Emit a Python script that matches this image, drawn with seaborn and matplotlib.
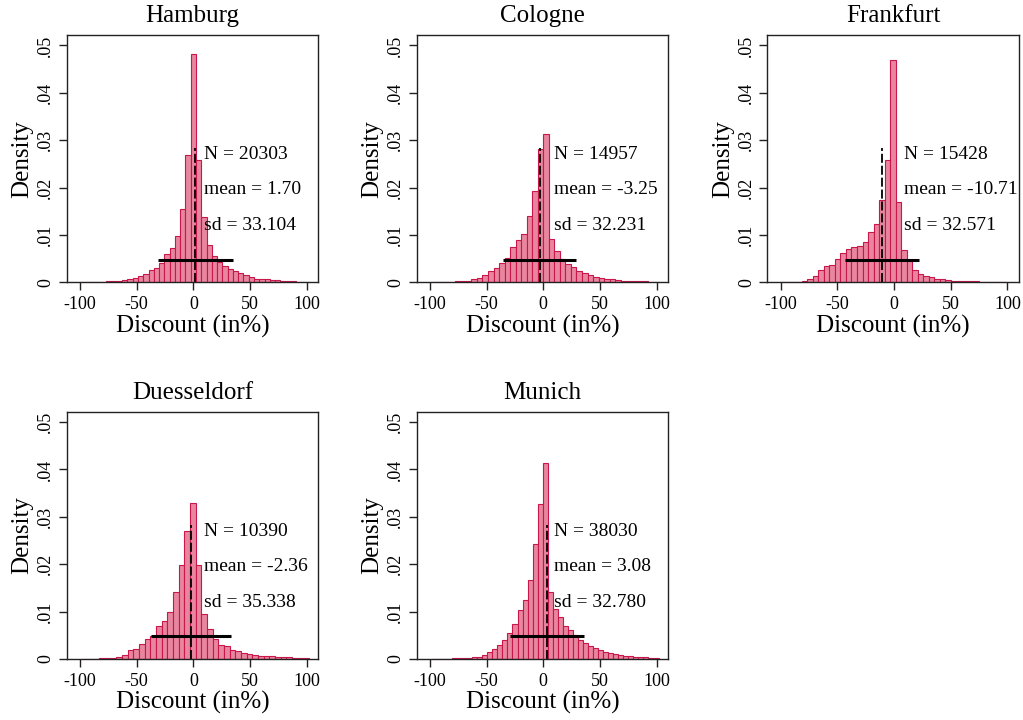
import numpy as np
import pandas as pd
import matplotlib
matplotlib.use("Agg")
import matplotlib.pyplot as plt
import seaborn as sns

sns.set_style("ticks")
plt.rcParams['font.family'] = ['Liberation Serif', 'DejaVu Serif']
plt.rcParams['axes.unicode_minus'] = False
plt.rcParams['text.color'] = 'black'
plt.rcParams['axes.labelcolor'] = 'black'
plt.rcParams['xtick.color'] = 'black'
plt.rcParams['ytick.color'] = 'black'

# ---------------- data ----------------
cities = ["Hamburg", "Cologne", "Frankfurt", "Duesseldorf", "Munich"]
n_obs = ["20303", "14957", "15428", "10390", "38030"]
means = [1.70, -3.25, -10.71, -2.36, 3.08]
mean_labels = ["1.70", "-3.25", "-10.71", "-2.36", "3.08"]
sds = [33.104, 32.231, 32.571, 35.338, 32.780]
sd_labels = ["33.104", "32.231", "32.571", "35.338", "32.780"]

bin_start = [-100.0, -97.56, -101.0, -97.9, -98.3]
bin_width = [4.651, 4.878, 4.878, 5.0, 4.444]

hamburg = [0.0001, 0.0001, 0.0001, 0.00012, 0.00015, 0.0002, 0.00025, 0.0003,
           0.0005, 0.0007, 0.001, 0.0014, 0.0018, 0.0027, 0.003, 0.0041, 0.006,
           0.0072, 0.0097, 0.0155, 0.0268, 0.0482, 0.0258, 0.0137, 0.0079, 0.0056,
           0.0042, 0.0035, 0.0028, 0.0024, 0.0019, 0.0016, 0.0011, 0.0008, 0.0007,
           0.0006, 0.0005, 0.0004, 0.0003, 0.00025, 0.0002, 0.00015, 0.0001]
cologne = [0.0001, 0.0001, 0.0001, 0.00012, 0.00018, 0.00025, 0.00035, 0.0007,
           0.0009, 0.0015, 0.0023, 0.003, 0.0041, 0.0051, 0.0075, 0.0089, 0.0102,
           0.0141, 0.0192, 0.0282, 0.0313, 0.0092, 0.0067, 0.005, 0.0039, 0.0032,
           0.0024, 0.0019, 0.0015, 0.0011, 0.0009, 0.0007, 0.0006, 0.0005, 0.00035,
           0.0003, 0.00035, 0.0003, 0.0002, 0.00015, 0.0001]
frankfurt = [0.0001, 0.0001, 0.0001, 0.00015, 0.00035, 0.0007, 0.0013, 0.0025,
             0.0035, 0.0037, 0.0049, 0.0061, 0.007, 0.0074, 0.0077, 0.0086, 0.0106,
             0.0123, 0.0174, 0.0258, 0.047, 0.017, 0.0068, 0.0046, 0.0027, 0.0017,
             0.0014, 0.0011, 0.0007, 0.0006, 0.0004, 0.00035, 0.0003, 0.0003, 0.0002,
             0.0002, 0.00015, 0.00015, 0.0001, 0.0001, 0.0001]
duesseldorf = [0.0001, 0.0001, 0.0001, 0.00012, 0.00018, 0.0003, 0.0005, 0.0009,
               0.0019, 0.0021, 0.0032, 0.0042, 0.0049, 0.0069, 0.0081, 0.0099, 0.0141,
               0.0198, 0.027, 0.0329, 0.0198, 0.0095, 0.0064, 0.0042, 0.0029, 0.0028,
               0.002, 0.0016, 0.0013, 0.0011, 0.0009, 0.0007, 0.0007, 0.0006, 0.0005,
               0.0004, 0.00035, 0.0003, 0.0002, 0.00015]
munich = [0.0001, 0.0001, 0.0001, 0.0001, 0.00012, 0.00013, 0.00015, 0.0002,
          0.00035, 0.0005, 0.0008, 0.0014, 0.0021, 0.003, 0.004, 0.0054, 0.0074,
          0.0104, 0.0125, 0.0166, 0.0242, 0.0327, 0.0414, 0.0142, 0.0105, 0.0088,
          0.007, 0.0062, 0.0051, 0.004, 0.0034, 0.0028, 0.0023, 0.0019, 0.0015,
          0.0012, 0.001, 0.0008, 0.0007, 0.0006, 0.0005, 0.0004, 0.00035, 0.0003,
          0.0002]
densities = [hamburg, cologne, frankfurt, duesseldorf, munich]

xticks = [-100, -50, 0, 50, 100]
xtick_labels = ["-100", "-50", "0", "50", "100"]
yticks = [0, 0.01, 0.02, 0.03, 0.04, 0.05]
ytick_labels = ["0", ".01", ".02", ".03", ".04", ".05"]

# ---------------- style ----------------
fill = "#e8869f"
edge = "#c8174a"

fig = plt.figure(figsize=(10.23, 7.2), dpi=100)
lefts = [0.0652, 0.4073, 0.7502]
bottoms = [0.6079, 0.0847]
w, h = 0.2458, 0.3435
grid_pos = [(0, 0), (0, 1), (0, 2), (1, 0), (1, 1)]

for i, city in enumerate(cities):
    r, c = grid_pos[i]
    ax = fig.add_axes([lefts[c], bottoms[r], w, h])
    dens = np.array(densities[i])
    n = len(dens)
    bw = bin_width[i]
    lo = bin_start[i]
    hi = lo + n * bw
    centers = lo + bw * (np.arange(n) + 0.5)
    df = pd.DataFrame({"x": centers, "w": dens})
    sns.histplot(data=df, x="x", weights="w", binwidth=bw, binrange=(lo, hi),
                 stat="count", ax=ax, color=fill, edgecolor=edge,
                 linewidth=0.8, alpha=1)

    m, s = means[i], sds[i]
    ax.plot([m, m], [0, 0.0283], color="black", lw=1.3, ls=(0, (5, 1.6)))
    ax.plot([m - s, m + s], [0.0048, 0.0048], color="black", lw=2.2,
            solid_capstyle="butt")

    ax.text(9, 0.027, f"N = {n_obs[i]}", fontsize=14, va="center", ha="left")
    ax.text(9, 0.0195, f"mean = {mean_labels[i]}", fontsize=14, va="center", ha="left")
    ax.text(9, 0.012, f"sd = {sd_labels[i]}", fontsize=14, va="center", ha="left")

    ax.set_xlim(-111.7, 110.1)
    ax.set_ylim(0, 0.0522)
    ax.set_xticks(xticks)
    ax.set_xticklabels(xtick_labels)
    ax.set_yticks(yticks)
    ax.set_yticklabels(ytick_labels, rotation=90, va="center")
    ax.tick_params(axis="both", length=6, width=1, labelsize=13,
                   direction="out", color="#222222")
    ax.tick_params(axis="x", pad=4)
    ax.tick_params(axis="y", pad=3)
    for sp in ax.spines.values():
        sp.set_visible(True)
        sp.set_linewidth(1.0)
        sp.set_color("#222222")
    ax.set_title(city, fontsize=18, pad=9)
    ax.set_xlabel("Discount (in%)", fontsize=18, labelpad=1)
    ax.set_ylabel("Density", fontsize=18, labelpad=3)

fig.savefig("out.png", dpi=100, facecolor="white")
